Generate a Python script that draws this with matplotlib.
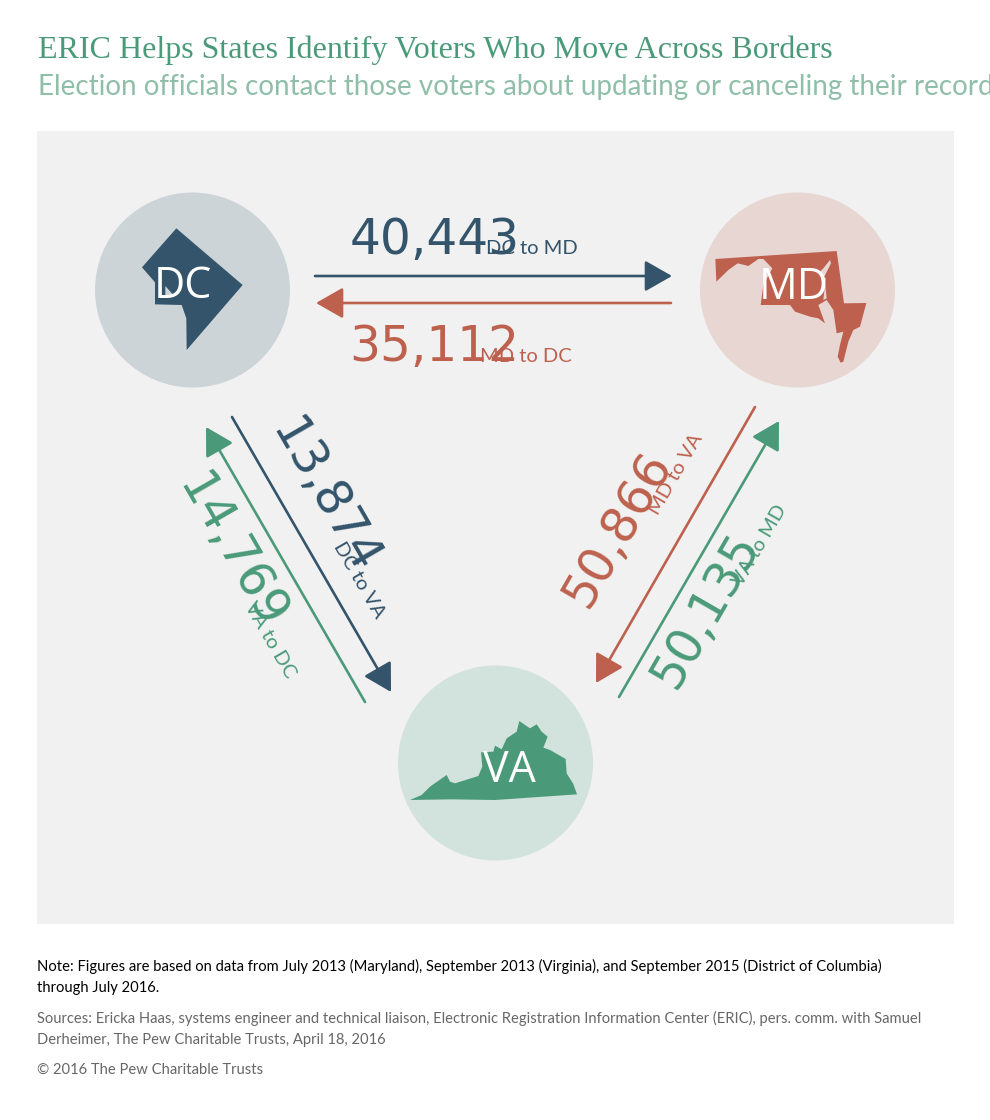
import matplotlib
matplotlib.use('Agg')
import matplotlib.pyplot as plt
from matplotlib.patches import Circle, Polygon, Rectangle, FancyArrowPatch

# the flows
flow_values = ['40,443', '35,112', '13,874', '14,769', '50,866', '50,135']
flow_labels = ['DC to MD', 'MD to DC', 'DC to VA', 'VA to DC', 'MD to VA', 'VA to MD']
state_names = ['DC', 'MD', 'VA']

navy = '#33546b'
red = '#bd614e'
green = '#4a9a79'
flow_colors = [navy, red, navy, green, red, green]
state_colors = [navy, red, green]
circle_colors = ['#ccd4d8', '#e7d6d2', '#d2e2dc']
centers = [(192.5, 290), (797.5, 290), (495.5, 763)]

# arrow ends in pixels
arrow_ends = [((315, 276), (672, 276)), ((671, 303), (316, 303)),
              ((232, 417), (391, 692)), ((365, 702), (206, 427)),
              ((755, 407), (596, 683)), ((619, 697), (779, 421))]
# number centre, label centre, rotation
text_pos = [((435, 240), (532, 249), 0), ((434, 347), (526, 356), 0),
            ((325, 497), (359, 580), -60), ((232, 552), (270, 640), -60),
            ((617, 529), (676, 474), 60), ((705, 610), (760, 545), 60)]


def zoomed(pts, x0, y0):
    return [(x0 + x / 3, y0 + y / 3) for x, y in pts]


dc_shape = zoomed([(259, 130), (458, 300), (290, 495), (289, 400), (275, 360), (195, 358),
                   (195, 292), (156, 247)], 90, 185)
dc_river = zoomed([(226, 303), (250, 330), (226, 330)], 90, 185)
md_shape = zoomed([(61, 222), (425, 198), (447, 355), (514, 354), (495, 425), (475, 435),
                   (460, 470), (445, 530), (437, 533), (428, 515), (435, 480), (445, 440),
                   (425, 445), (420, 410), (415, 375), (395, 345), (370, 360), (390, 415),
                   (370, 400), (345, 395), (300, 380), (285, 360), (197, 360), (205, 300),
                   (232, 250), (205, 222), (190, 222), (160, 243), (128, 235), (100, 255),
                   (64, 290)], 695, 185)
md_bay = zoomed([(405, 225), (385, 250), (375, 260), (392, 280), (385, 345), (395, 340),
                 (388, 275), (408, 235)], 695, 185)
va_shape = zoomed([(45, 420), (80, 405), (105, 380), (155, 345), (165, 365), (180, 370),
                   (250, 348), (262, 320), (258, 277), (295, 275), (300, 257), (320, 268),
                   (335, 235), (365, 215), (373, 183), (405, 205), (425, 193), (440, 215),
                   (458, 230), (445, 263), (465, 270), (512, 297), (515, 340), (535, 372),
                   (546, 403), (300, 420), (170, 418)], 395, 660)
state_shapes = [dc_shape, md_shape, va_shape]

fig = plt.figure(figsize=(9.9, 11.2), dpi=100, facecolor='white')
ax = fig.add_axes([0, 0, 1, 1])
ax.set_xlim(0, 990)
ax.set_ylim(1120, 0)
ax.axis('off')

ax.add_patch(Rectangle((37, 131), 917, 793, fc='#f1f1f1', ec='none'))

for c, cc, shape, col, name in zip(centers, circle_colors, state_shapes, state_colors, state_names):
    ax.add_patch(Circle(c, 97.5, fc=cc, ec='none'))
    ax.add_patch(Polygon(shape, closed=True, fc=col, ec='none'))

ax.add_patch(Polygon(dc_river, closed=True, fc=circle_colors[0], ec='none'))
ax.add_patch(Polygon(md_bay, closed=True, fc=circle_colors[1], ec='none'))

label_pos = [(183, 287), (794, 288), (509, 771)]
for name, p in zip(state_names, label_pos):
    ax.text(p[0], p[1], name, color='white', fontsize=31, family='Open Sans',
            ha='center', va='center')

for (a, b), col in zip(arrow_ends, flow_colors):
    ax.add_patch(FancyArrowPatch(a, b, arrowstyle='-|>,head_length=1.05,head_width=0.6',
                                 mutation_scale=16, color=col, lw=1.9, shrinkA=0, shrinkB=0))

for val, lab, col, (p1, p2, rot) in zip(flow_values, flow_labels, flow_colors, text_pos):
    ax.text(p1[0], p1[1], val, color=col, fontsize=35, family='Liberation Sans Narrow',
            ha='center', va='center', rotation=rot, rotation_mode='anchor')
    ax.text(p2[0], p2[1], lab, color=col, fontsize=14.5, family='Lato',
            ha='center', va='center', rotation=rot, rotation_mode='anchor')

ax.text(38, 50, 'ERIC Helps States Identify Voters Who Move Across Borders', color=green,
        fontsize=23, family='Liberation Serif', va='center')
ax.text(38, 87, 'Election officials contact those voters about updating or canceling their records',
        color='#8fbfa8', fontsize=20, family='Lato', va='center')

ax.text(37, 966, 'Note: Figures are based on data from July 2013 (Maryland), September 2013 (Virginia), and September 2015 (District of Columbia)',
        color='black', fontsize=10.6, family='Lato', va='center')
ax.text(37, 988, 'through July 2016.', color='black', fontsize=10.6, family='Lato', va='center')
ax.text(37, 1018, 'Sources: Ericka Haas, systems engineer and technical liaison, Electronic Registration Information Center (ERIC), pers. comm. with Samuel',
        color='#666666', fontsize=10.6, family='Lato', va='center')
ax.text(37, 1040, 'Derheimer, The Pew Charitable Trusts, April 18, 2016', color='#666666',
        fontsize=10.6, family='Lato', va='center')
ax.text(37, 1070, '© 2016 The Pew Charitable Trusts', color='#666666', fontsize=10.6,
        family='Lato', va='center')

fig.savefig('out.png', dpi=100)
